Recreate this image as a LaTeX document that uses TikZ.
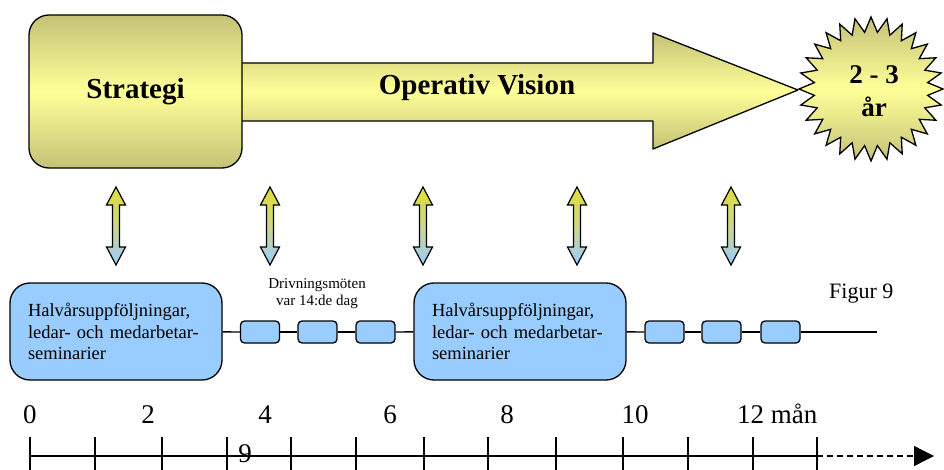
\documentclass[tikz,border=0pt]{standalone}
\usepackage{fontspec}
\setmainfont{Liberation Serif}
\usetikzlibrary{arrows.meta}

\definecolor{goldDark}{RGB}{196,194,118}
\definecolor{goldLight}{RGB}{255,255,153}
\definecolor{skyBlue}{RGB}{153,204,255}
\definecolor{arrYellow}{RGB}{224,222,52}
\definecolor{arrMid}{RGB}{206,214,140}

\tikzset{
  outline/.style={draw=black, line width=1.3pt, line join=round},
  goldfill/.style={top color=goldDark, bottom color=goldDark, middle color=goldLight},
  bigbox/.style={outline, fill=skyBlue, rounded corners=20pt,
    minimum width=212pt, minimum height=97pt, text width=176pt,
    align=left, inner sep=0pt, font=\fontsize{18.5pt}{21.5pt}\selectfont},
  meetbox/.style={outline, fill=skyBlue, rounded corners=4pt,
    minimum width=39pt, minimum height=22pt, inner sep=0pt},
  headline/.style={font=\fontsize{29pt}{34pt}\selectfont\bfseries, inner sep=0pt},
  monthlabel/.style={font=\fontsize{27pt}{30pt}\selectfont, inner sep=0pt, anchor=base},
  tickmark/.style={line width=1.3pt},
  link/.style={line width=1.3pt},
  updown/.pic={
    \path[draw=black, line width=1.2pt, line join=miter,
          top color=arrYellow, bottom color=skyBlue, middle color=arrMid]
      (0,0) -- (9.5,18) -- (3.5,18) -- (3.5,60) -- (9.5,60) -- (0,78)
      -- (-9.5,60) -- (-3.5,60) -- (-3.5,18) -- (-9.5,18) -- cycle;
  }
}

\begin{document}
\begin{tikzpicture}[x=1pt, y=-1pt]
\useasboundingbox (0,0) rectangle (944,470);

% ---- big arrow: strategy -> vision ----
\path[outline, goldfill]
  (230,63) -- (653,63) -- (653,33) -- (798,90) -- (653,149) -- (653,121) -- (230,121) -- cycle;
\node[headline] (vision) at (477,88) {Operativ Vision};

\node[outline, goldfill, rounded corners=20pt, minimum width=213pt, minimum height=153pt,
      inner sep=0pt, font=\fontsize{29pt}{34pt}\selectfont\bfseries]
      (strategi) at (135.5,91.5) {\raisebox{-7pt}{Strategi}};

% ---- sun: 2-3 years (28 rays) ----
\begin{scope}[shift={(871,89)}]
  \path[outline, line join=miter, goldfill]
    (0:72) \foreach \i in {1,...,55}{ -- ({\i*6.428571}:{ifthenelse(isodd(\i),57,72)}) } -- cycle;
\end{scope}
\node[font=\fontsize{27pt}{33pt}\selectfont\bfseries, align=center, inner sep=0pt]
  (sun) at (874,91.5) {2 - 3\\år};

% ---- two-way arrows ----
\foreach \x in {116,270,423,577,731} \pic at (\x,187) {updown};

% ---- follow-up row ----
\node[bigbox] (half1) at (116,331.5) {Halvårsuppföljningar,\\ledar- och medarbetar-\\seminarier};
\node[bigbox] (half2) at (520,331.5) {Halvårsuppföljningar,\\ledar- och medarbetar-\\seminarier};

\node[meetbox] (m1) at (260,332) {};
\node[meetbox] (m2) at (317.5,332) {};
\node[meetbox] (m3) at (375.5,332) {};
\node[meetbox] (m4) at (664.5,332) {};
\node[meetbox] (m5) at (721.5,332) {};
\node[meetbox] (m6) at (780.5,332) {};
\coordinate (rowend) at (877,332);

\draw[link] (half1) -- (m1);
\draw[link] (m1) -- (m2);
\draw[link] (m2) -- (m3);
\draw[link] (m3) -- (half2);
\draw[link] (half2) -- (m4);
\draw[link] (m4) -- (m5);
\draw[link] (m5) -- (m6);
\draw[link] (m6) -- (rowend);

\node[font=\fontsize{15pt}{17pt}\selectfont, align=center, inner sep=0pt]
  (drive) at (317,294) {Drivningsmöten\\var 14:de dag};

\node[font=\fontsize{22pt}{26pt}\selectfont, anchor=base west, inner sep=0pt]
  (fig) at (829,298) {Figur 9};

% ---- month scale ----
\coordinate (t0) at (30,456);
\coordinate (tend) at (817,456);
\coordinate (ttip) at (934,456);
\draw[link] (t0) -- (tend);
\draw[link, dash pattern=on 6pt off 4pt, -{Triangle[length=20pt,width=20pt]}] (tend) -- (ttip);
\foreach \x in {30,95,162,227,291,356,424,488,556,623,688,753,817}
  \draw[tickmark] (\x,437) -- (\x,472);

\node[monthlabel] (m0) at (30,423) {0};
\node[monthlabel] (m2l) at (148,423) {2};
\node[monthlabel] (m4l) at (265,423) {4};
\node[monthlabel] (m6l) at (390,423) {6};
\node[monthlabel] (m8l) at (507,423) {8};
\node[monthlabel] (m10l) at (635,423) {10};
\node[monthlabel, anchor=base west] (m12l) at (737,423) {12 mån};
\node[monthlabel] (nine) at (245,462) {9};
\end{tikzpicture}
\end{document}
